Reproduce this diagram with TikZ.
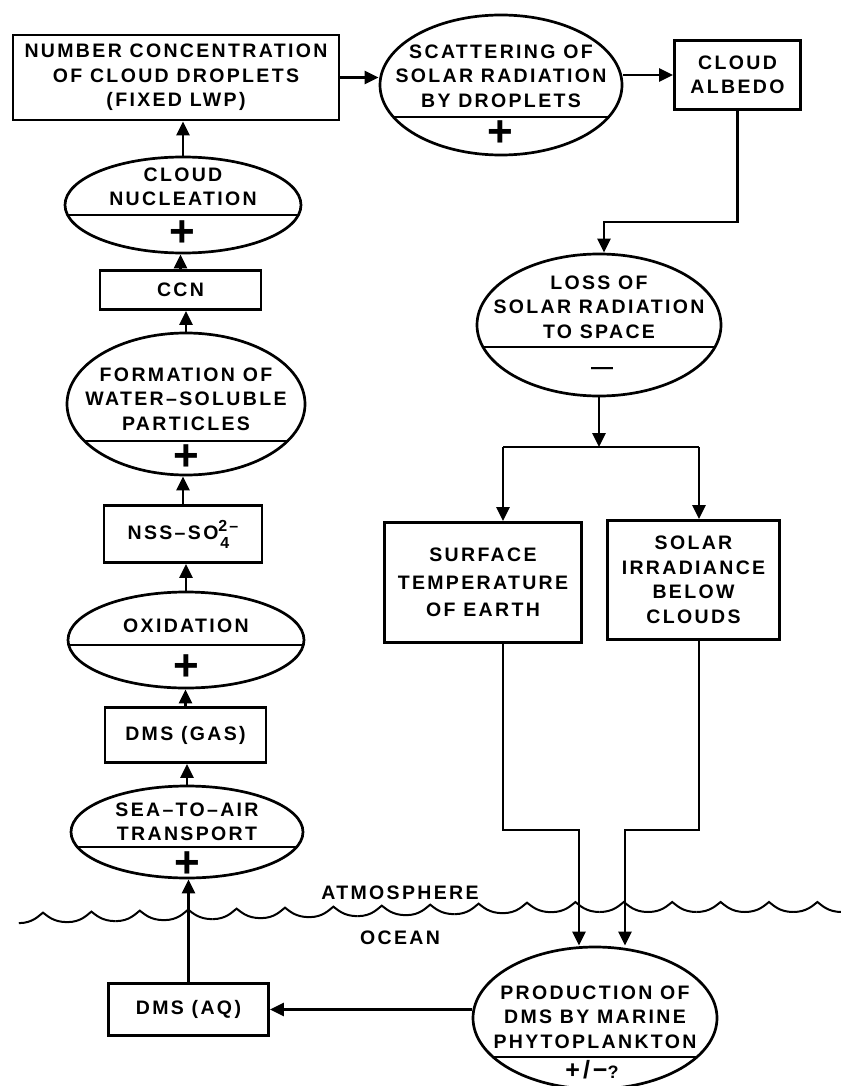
\documentclass[tikz,border=0pt]{standalone}
\usepackage{fontspec}
\setmainfont{Liberation Sans}[LetterSpace=12]
\usetikzlibrary{arrows.meta,shapes.geometric}
\begin{document}
\begin{tikzpicture}[x=1pt,y=-1pt,
  box/.style={draw, line width=2.7pt, rectangle, inner sep=0,
    font=\fontsize{19.5}{24.5}\selectfont\bfseries, align=center},
  oval/.style={draw, line width=2.7pt, ellipse, inner sep=0},
  txt/.style={font=\fontsize{19.5}{24.5}\selectfont\bfseries, align=center, inner sep=0},
  pls/.style={font=\fontsize{44}{44}\selectfont\bfseries, inner sep=0},
  mns/.style={font=\fontsize{22}{22}\selectfont\bfseries, inner sep=0},
  arr/.style={line width=2.7pt, -{Triangle[length=14pt,width=13pt]}},
  con/.style={line width=2.7pt},
  dvd/.style={line width=2.7pt},
  wave/.style={line width=2pt},
]
\useasboundingbox (0,0) rectangle (840,1086);

% ---------- left column ----------
\node[box, minimum width=326, minimum height=85] (b1) at (176,77.5)
  {NUMBER CONCENTRATION\\OF CLOUD DROPLETS\\(FIXED LWP)};

\node[oval, minimum width=236, minimum height=96] (nuc) at (183,205) {};
\node[txt] (nuct) at (183,187) {CLOUD\\NUCLEATION};
\draw[dvd] (183-115.4,215) -- (183+115.4,215);
\node[pls] (nucs) at (182,234) {+};

\node[box, minimum width=161, minimum height=39] (ccn) at (180.5,290) {CCN};

\node[oval, minimum width=238, minimum height=142] (form) at (186,404) {};
\node[txt] (formt) at (186,399) {FORMATION OF\\WATER–SOLUBLE\\PARTICLES};
\draw[dvd] (186-101.6,441) -- (186+101.6,441);
\node[pls] (forms) at (186,458) {+};

\node[box, minimum width=158, minimum height=57] (nss) at (183,534)
  {NSS–SO\rlap{\raisebox{8pt}{\fontsize{16}{16}\selectfont\bfseries 2–}}\raisebox{-9pt}{\fontsize{16}{16}\selectfont\bfseries\hspace{2pt}4}\hspace{9pt}};

\node[oval, minimum width=236, minimum height=96] (oxi) at (186,640) {};
\node[txt] (oxit) at (186,626) {OXIDATION};
\draw[dvd] (186-117.4,645) -- (186+117.4,645);
\node[pls] (oxis) at (186,668) {+};

\node[box, minimum width=161, minimum height=55] (dmsg) at (185.5,735) {DMS (GAS)};

\node[oval, minimum width=232, minimum height=92] (sea) at (187,832) {};
\node[txt] (seat) at (187,822) {SEA–TO–AIR\\TRANSPORT};
\draw[dvd] (187-109.7,847) -- (187+109.7,847);
\node[pls] (seas) at (187,865) {+};

\node[box, minimum width=160, minimum height=52] (dmsaq) at (188.5,1009.5) {DMS (AQ)};

% ---------- right part ----------
\node[oval, minimum width=242, minimum height=140] (scat) at (501,85) {};
\node[txt] (scatt) at (501,76) {SCATTERING OF\\SOLAR RADIATION\\BY DROPLETS};
\draw[dvd] (501-107.6,117) -- (501+107.6,117);
\node[pls] (scats) at (500,134) {+};

\node[box, minimum width=126, minimum height=69] (alb) at (737.5,75) {CLOUD\\ALBEDO};

\node[oval, minimum width=244, minimum height=142] (loss) at (599,325) {};
\node[txt] (losst) at (599,307) {LOSS OF\\SOLAR RADIATION\\TO SPACE};
\draw[dvd] (599-116,347) -- (599+116,347);
\node[mns] (losss) at (602,371) {—};

\node[box, minimum width=197, minimum height=120] (surf) at (483,582.5)
  {SURFACE\\[3pt]TEMPERATURE\\[3pt]OF EARTH};
\node[box, minimum width=172, minimum height=119] (solar) at (693.5,580)
  {SOLAR\\IRRADIANCE\\BELOW\\CLOUDS};

\node[oval, minimum width=244, minimum height=142] (prod) at (595,1018) {};
\node[txt] (prodt) at (595,1017) {PRODUCTION OF\\DMS BY MARINE\\PHYTOPLANKTON};
\draw[dvd] (595-101,1057) -- (595+101,1057);
\node[inner sep=0] (prods) at (592,1070)
  {\fontsize{25}{25}\selectfont\bfseries +/−\fontsize{18}{18}\selectfont ?};

% ---------- surface labels ----------
\node[txt] (atm) at (400,893) {ATMOSPHERE};
\node[txt] (ocn) at (400,938) {OCEAN};

% ---------- wave ----------
\foreach \k in {0,...,16}{
  \pgfmathsetmacro\xa{18.8+48.4*\k}
  \pgfmathsetmacro\ya{max(912,923-(\xa-25)*11/535)}
  \pgfmathsetmacro\yb{max(912,923-(\xa+48.4-25)*11/535)}
  \pgfmathsetmacro\yp{(\ya+\yb)/2-10}
  \draw[wave] (\xa,\ya) .. controls (\xa+14,\ya) and (\xa+20,\yp+3) .. (\xa+24.2,\yp)
     .. controls (\xa+28.4,\yp+3) and (\xa+34.4,\yb) .. (\xa+48.4,\yb);
}

% ---------- connectors ----------
\draw[arr] (nuc.north) -- (nuc.north |- b1.south);
\draw[arr] (ccn.north) -- (ccn.north |- nuc.south);
\draw[arr] (form.north) -- (form.north |- ccn.south);
\draw[arr] (nss.north) -- (nss.north |- form.south);
\draw[arr] (oxi.north) -- (oxi.north |- nss.south);
\draw[arr] (dmsg.north) -- (dmsg.north |- oxi.south);
\draw[arr] (sea.north) -- (sea.north |- dmsg.south);
\draw[arr] (dmsaq.north) -- (dmsaq.north |- sea.south);

\draw[arr] (b1.east) -- (b1.east -| scat.west);
\draw[arr] (scat.east |- alb.west) -- (alb.west);

\coordinate (j1) at (604,222);
\draw[arr] (alb.south) |- (j1) -- (j1 |- loss.north);

\coordinate (j2) at (599,447);
\coordinate (ls) at (503,447);
\coordinate (rs) at (699,447);
\draw[arr] (loss.south) -- (j2);
\draw[con] (ls) -- (rs);
\draw[arr] (ls) -- (ls |- surf.north);
\draw[arr] (rs) -- (rs |- solar.north);

\coordinate (pl) at (579,830);
\coordinate (pr) at (625,830);
\draw[arr] (ls |- surf.south) |- (pl) -- (pl |- prod.north);
\draw[arr] (rs |- solar.south) |- (pr) -- (pr |- prod.north);

\draw[arr] (prod.west |- dmsaq.east) -- (dmsaq.east);
\end{tikzpicture}
\end{document}
